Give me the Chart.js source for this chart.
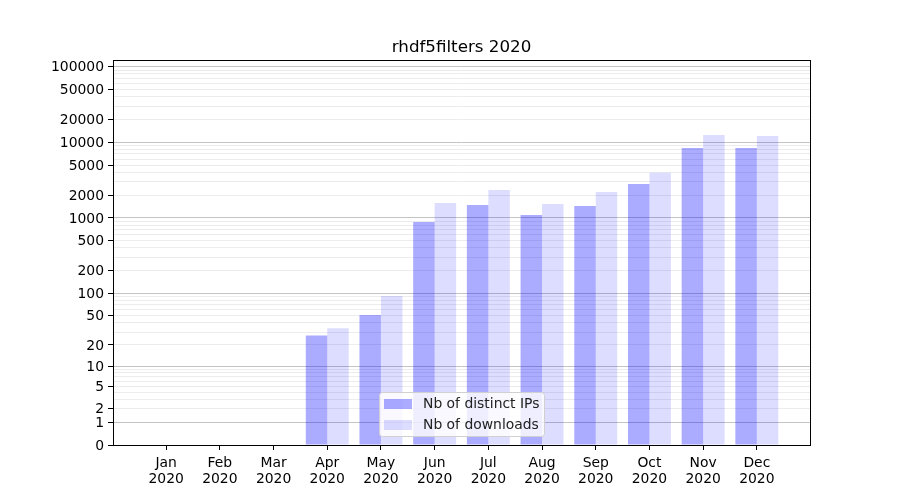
<!DOCTYPE html>
<html>
<head>
<meta charset="utf-8">
<script src="https://cdn.jsdelivr.net/npm/chart.js@4"></script>
<style>
  html, body { margin: 0; padding: 0; background: #fff; }
  #wrap { width: 900px; height: 500px; }
</style>
</head>
<body>
<div id="wrap"><canvas id="chart"></canvas></div>
<script>
// Data
const months = ['Jan', 'Feb', 'Mar', 'Apr', 'May', 'Jun', 'Jul', 'Aug', 'Sep', 'Oct', 'Nov', 'Dec'];
const year = '2020';
const ips = [0, 0, 0, 27, 51, 880, 1480, 1090, 1440, 2800, 8400, 8400];
const downloads = [0, 0, 0, 34, 92, 1570, 2340, 1530, 2200, 3950, 12450, 12100];
const labeledTicks = [0, 1, 2, 5, 10, 20, 50, 100, 200, 500, 1000, 2000, 5000, 10000, 20000, 50000, 100000];

// y axis is log10(value + 1)
const tr = v => Math.log10(v + 1);
const untr = t => Math.round(Math.pow(10, t) - 1);

// gridline positions: every 1..9 times a power of ten
const gridTicks = [0];
for (let p = 1; p <= 10000; p *= 10) {
    for (let m = 1; m <= 9; m++) gridTicks.push(m * p);
}
gridTicks.push(100000);

const isPow10 = v => v >= 1 && Math.abs(Math.log10(v) - Math.round(Math.log10(v))) < 1e-9;

const FONT = "'DejaVu Sans', sans-serif";
Chart.defaults.font.family = FONT;
Chart.defaults.color = '#000';

// matplotlib-like frame around the plot area, title centred over the axes
const framePlugin = {
    id: 'frame',
    afterLayout(chart) {
        if (chart.titleBlock) {
            chart.titleBlock.left = chart.chartArea.left;
            chart.titleBlock.right = chart.chartArea.right;
        }
    },
    afterDatasetsDraw(chart) {
        const a = chart.chartArea;
        const ctx = chart.ctx;
        ctx.save();
        ctx.strokeStyle = '#000';
        ctx.lineWidth = 1;
        ctx.strokeRect(Math.round(a.left) + 0.5, Math.round(a.top) + 0.5,
            Math.round(a.right - a.left), Math.round(a.bottom - a.top));
        ctx.restore();
    }
};

// legend in the lower middle of the plot area
const legendPlugin = {
    id: 'boxLegend',
    afterDraw(chart) {
        const ctx = chart.ctx;
        const x = 379, y = 392, w = 165, h = 44;
        ctx.save();
        ctx.beginPath();
        ctx.roundRect(x + 0.5, y + 0.5, w, h, 3);
        ctx.fillStyle = 'rgba(255,255,255,0.8)';
        ctx.fill();
        ctx.strokeStyle = '#d0d0d0';
        ctx.lineWidth = 1;
        ctx.stroke();
        ctx.font = '13.9px ' + FONT;
        ctx.textBaseline = 'middle';
        chart.data.datasets.forEach((ds, i) => {
            const ry = y + 7 + i * 21;
            ctx.fillStyle = ds.backgroundColor;
            ctx.fillRect(x + 5, ry, 28, 10);
            ctx.fillStyle = '#222';
            ctx.fillText(ds.label, x + 44, ry + 5);
        });
        ctx.restore();
    }
};

new Chart(document.getElementById('chart'), {
    type: 'bar',
    data: {
        datasets: [
            {
                label: 'Nb of distinct IPs',
                data: months.map((m, i) => ({ x: i, y: tr(ips[i]) })),
                backgroundColor: 'rgba(0,0,255,0.33)'
            },
            {
                label: 'Nb of downloads',
                data: months.map((m, i) => ({ x: i, y: tr(downloads[i]) })),
                backgroundColor: 'rgba(0,0,255,0.135)'
            }
        ]
    },
    options: {
        responsive: true,
        maintainAspectRatio: false,
        animation: false,
        layout: { padding: { left: 0, right: 90, top: 0, bottom: 0 } },
        datasets: {
            bar: { categoryPercentage: 0.8, barPercentage: 1.0, borderWidth: 0 }
        },
        plugins: {
            legend: { display: false },
            tooltip: { enabled: false },
            title: {
                display: true,
                text: 'rhdf5filters 2020',
                color: '#000',
                font: { size: 16.7, weight: 'normal', family: FONT, lineHeight: 1.2 },
                padding: { top: 38, bottom: 2 }
            }
        },
        scales: {
            x: {
                type: 'linear',
                offset: false,
                min: -0.99,
                max: 11.99,
                afterBuildTicks: s => { s.ticks = months.map((m, i) => ({ value: i })); },
                afterFit: s => { s.height = 55; },
                ticks: {
                    autoSkip: false,
                    maxRotation: 0,
                    padding: 6,
                    color: '#000',
                    font: { size: 13.9, family: FONT, lineHeight: 1.1 },
                    callback: v => [months[v], year]
                },
                grid: { offset: false, drawOnChartArea: false, drawTicks: true, tickLength: 5, tickColor: '#000' },
                border: { display: false }
            },
            y: {
                type: 'linear',
                min: 0,
                max: 5.086,
                afterBuildTicks: s => { s.ticks = gridTicks.map(v => ({ value: tr(v) })); },
                afterFit: s => { s.width = 113; },
                ticks: {
                    autoSkip: false,
                    padding: 4,
                    labelOffset: 1,
                    color: '#000',
                    font: { size: 13.9, family: FONT },
                    callback: v => {
                        const n = untr(v);
                        return labeledTicks.includes(n) ? String(n) : '';
                    }
                },
                grid: {
                    tickLength: 5,
                    color: c => {
                        const n = untr(c.tick.value);
                        if (n === 0) return 'rgba(0,0,0,0)';
                        return isPow10(n) ? '#c4c4c4' : '#ececec';
                    },
                    tickColor: c => labeledTicks.includes(untr(c.tick.value)) ? '#000' : 'rgba(0,0,0,0)'
                },
                border: { display: false }
            }
        }
    },
    plugins: [framePlugin, legendPlugin]
});
</script>
</body>
</html>
